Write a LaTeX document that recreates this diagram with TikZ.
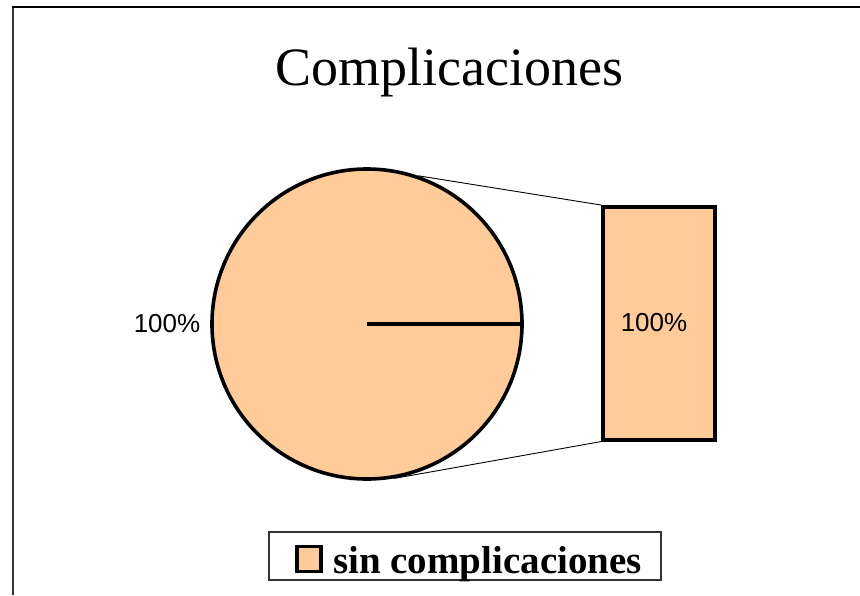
\documentclass[tikz,border=0pt]{standalone}
\usepackage{fontspec}
\setmainfont{Liberation Serif}
\newfontfamily\arialfont{Liberation Sans}
\definecolor{peach}{HTML}{FFCC99}
\begin{document}
\begin{tikzpicture}[x=1pt,y=-1pt,
  thickline/.style={line width=3.6pt,draw=black},
  pctlabel/.style={font=\arialfont\fontsize{26}{30}\selectfont,inner sep=0pt},
  connector/.style={line width=0.9pt,draw=black}]
\useasboundingbox (0,0) rectangle (860,595);
% partial frame
\draw[line width=2.2pt,draw=black!80] (13,595) -- (13,7);
\draw[line width=2.2pt] (12,7) -- (860,7);
% title
\node[font=\fontsize{54}{60}\selectfont,inner sep=0pt] (title) at (449,73) {Complicaciones};
% pie
\node[circle,thickline,fill=peach,minimum size=310pt,inner sep=0pt] (pie) at (367,324) {};
\draw[thickline] (pie.center) -- (pie.0.5);
% bar
\node[rectangle,thickline,fill=peach,minimum width=112pt,minimum height=233pt,inner sep=0pt,anchor=north west] (bar) at (601,205) {};
\draw[connector] (pie.71.5) -- (bar.north west);
\draw[connector] (pie.-80) -- (bar.south west);
% labels
\node[pctlabel] (lpie) at (167,324) {100\%};
\node[pctlabel] (lbar) at (654,323) {100\%};
% legend
\node[draw=black!80,line width=1.4pt,minimum width=392pt,minimum height=48pt,inner sep=0pt] (legend) at (465,556) {};
\node[draw=black,line width=3.4pt,fill=peach,minimum width=24pt,minimum height=25pt,inner sep=0pt] (swatch) at (309,559) {};
\node[font=\bfseries\fontsize{39}{44}\selectfont,inner sep=0pt,anchor=base west] (legtext) at (333,573) {sin complicaciones};
\end{tikzpicture}
\end{document}
